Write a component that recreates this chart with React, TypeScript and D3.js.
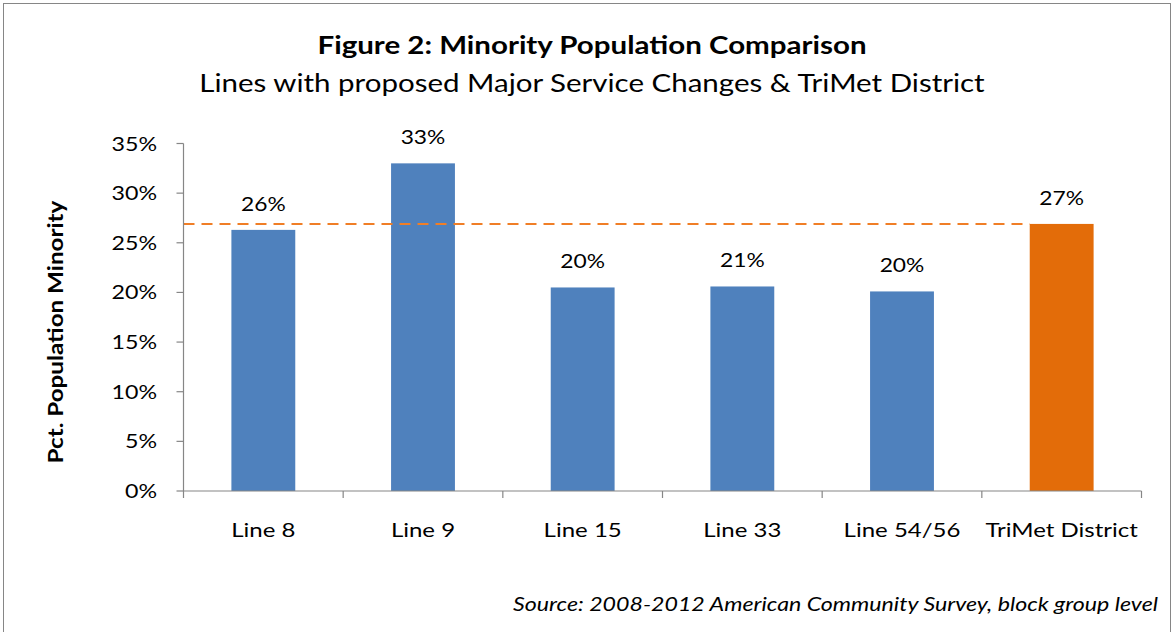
import React from "react";
import * as d3 from "d3";

const categories = ["Line 8", "Line 9", "Line 15", "Line 33", "Line 54/56", "TriMet District"];
const values = [26.3, 33.0, 20.5, 20.6, 20.1, 26.9];
const labels = ["26%", "33%", "20%", "21%", "20%", "27%"];
const districtValue = 26.9;
const yTicks = [0, 5, 10, 15, 20, 25, 30, 35];

const W = 1172;
const H = 632;
const FONT = "Lato, 'Open Sans', sans-serif";

type TProps = {
  x: number;
  y: number;
  sx: number;
  size: number;
  anchor?: "start" | "middle" | "end";
  weight?: string;
  italic?: boolean;
  rotate?: number;
  children: React.ReactNode;
};

function T({ x, y, sx, size, anchor = "middle", weight = "normal", italic = false, rotate = 0, children }: TProps) {
  return (
    <text
      transform={`translate(${x},${y}) rotate(${rotate}) scale(${sx},1)`}
      textAnchor={anchor}
      fontSize={size}
      fontWeight={weight}
      fontStyle={italic ? "italic" : "normal"}
      fill="#000"
    >
      {children}
    </text>
  );
}

export default function App() {
  const left = 183.5;
  const right = 1141.5;
  const top = 143.5;
  const bottom = 491;
  const x = d3.scaleBand<string>().domain(categories).range([left, right]).paddingInner(0.6).paddingOuter(0.3);
  const xb = d3.scaleBand<string>().domain(categories).range([left, right]).padding(0);
  const y = d3.scaleLinear().domain([0, 35]).range([bottom, top]);
  const axisColor = "#868686";
  const lastCat = categories[categories.length - 1];

  return (
    <svg width={W} height={H} style={{ position: "absolute", left: 0, top: 0 }} fontFamily={FONT}>
      <rect x={0} y={0} width={W} height={H} fill="#fff" />
      <rect x={3.5} y={3.5} width={W - 5} height={H + 10} fill="none" stroke={axisColor} strokeWidth={1} />
      <T x={592} y={54} sx={1.18} size={25} weight="bold">
        Figure 2: Minority Population Comparison
      </T>
      <T x={592} y={92} sx={1.18} size={25}>
        Lines with proposed Major Service Changes &amp; TriMet District
      </T>
      <T x={63} y={332} sx={1.21} size={20} weight="bold" rotate={-90}>
        Pct. Population Minority
      </T>
      {yTicks.map((t) => (
        <g key={t}>
          <line x1={left - 7} x2={left} y1={y(t)} y2={y(t)} stroke={axisColor} strokeWidth={1.2} />
          <T x={157} y={y(t) + 7} sx={1.16} size={20} anchor="end">
            {t}%
          </T>
        </g>
      ))}
      {categories.map((c, i) => (
        <rect
          key={c}
          x={x(c)}
          y={y(values[i])}
          width={x.bandwidth()}
          height={bottom - y(values[i])}
          fill={c === lastCat ? "#E36C09" : "#4F81BD"}
        />
      ))}
      <line
        x1={left}
        x2={x(lastCat)}
        y1={y(districtValue)}
        y2={y(districtValue)}
        stroke="#F07E26"
        strokeWidth={2}
        strokeDasharray="11 7"
      />
      <line x1={left} x2={left} y1={top} y2={bottom + 7} stroke={axisColor} strokeWidth={1.2} />
      <line x1={left} x2={right} y1={bottom} y2={bottom} stroke={axisColor} strokeWidth={1.2} />
      {categories.map((c) => (
        <line
          key={c}
          x1={xb(c)! + xb.bandwidth()}
          x2={xb(c)! + xb.bandwidth()}
          y1={bottom}
          y2={bottom + 7}
          stroke={axisColor}
          strokeWidth={1.2}
        />
      ))}
      {categories.map((c, i) => (
        <T key={c} x={x(c)! + x.bandwidth() / 2} y={y(values[i]) - 19} sx={1.14} size={20}>
          {labels[i]}
        </T>
      ))}
      {categories.map((c) => (
        <T key={c} x={xb(c)! + xb.bandwidth() / 2} y={537} sx={1.2} size={20}>
          {c}
        </T>
      ))}
      <T x={1158} y={611} sx={1.22} size={19} anchor="end" italic>
        Source: 2008-2012 American Community Survey, block group level
      </T>
    </svg>
  );
}
